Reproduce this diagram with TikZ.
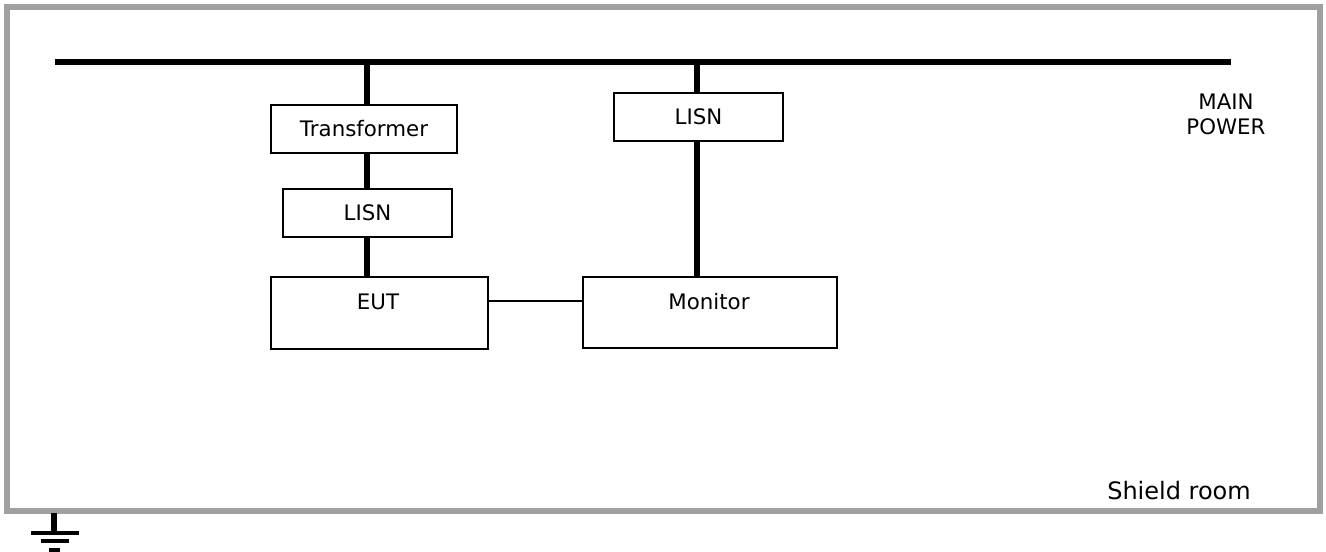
\documentclass[tikz,border=0pt]{standalone}
\usepackage{fontspec}
\setmainfont{DejaVu Sans}
\newdimen\pxu
\pxu=0.75pt
\definecolor{bordergray}{RGB}{160,160,160}
\tikzset{
  box/.style={draw=black, line width=1.6pt, fill=white, inner sep=0pt},
  txt/.style={inner sep=0pt, font=\fontsize{16pt}{20pt}\selectfont},
  bigtxt/.style={inner sep=0pt, font=\fontsize{18pt}{22pt}\selectfont},
  power/.style={line width=3.8pt},
  bus/.style={line width=4.5pt},
  signal/.style={line width=1.3pt},
  gnd/.style={line width=3pt},
}
\begin{document}
\begin{tikzpicture}[x=0.75pt, y=-0.75pt]
\useasboundingbox (0,0) rectangle (1326,551);
% shield room border
\draw[bordergray, line width=4.5pt] (7,7) rectangle (1320,511);
% bus
\coordinate (busL) at (55,62);
\coordinate (busR) at (1231,62);
\draw[bus] (busL) -- (busR);
% boxes
\node[box, minimum width=186\pxu, minimum height=48\pxu] (tr) at (364,129) {};
\node[txt] at (tr.center) {Transformer};
\node[box, minimum width=169\pxu, minimum height=48\pxu] (lisnA) at (367.5,213) {};
\node[txt] at (lisnA.center) {LISN};
\node[box, minimum width=217\pxu, minimum height=72\pxu] (eut) at (379.5,313) {};
\node[txt] (euttxt) at (378,302) {EUT};
\node[box, minimum width=169\pxu, minimum height=48\pxu] (lisnB) at (698.5,117) {};
\node[txt] at (lisnB.center) {LISN};
\node[box, minimum width=254\pxu, minimum height=71\pxu] (mon) at (710,312.5) {};
\node[txt] (montxt) at (709,302) {Monitor};
% power lines
\coordinate (lv) at (367,62);
\coordinate (rv) at (697,62);
\draw[power] (lv) -- (lv |- tr.north);
\draw[power] (tr.south -| lv) -- (lisnA.north -| lv);
\draw[power] (lisnA.south -| lv) -- (eut.north -| lv);
\draw[power] (rv) -- (rv |- lisnB.north);
\draw[power] (lisnB.south -| rv) -- (mon.north -| rv);
% signal line
\coordinate (sig) at (0,301);
\draw[signal] (eut.east |- sig) -- (mon.west |- sig);
% labels
\node[txt, align=center] (mp) at (1226,114.5) {MAIN\\[-0.9pt]POWER};
\node[bigtxt, anchor=base west] (sr) at (1107,499) {Shield room};
% ground
\coordinate (g0) at (54,513);
\coordinate (g1) at (54,533);
\draw[gnd, line width=3.8pt] (g0) -- (g1);
\draw[gnd] (31,533) -- (79,533);
\draw[gnd] (41,541) -- (69,541);
\draw[gnd] (49,549.5) -- (60,549.5);
\end{tikzpicture}
\end{document}
